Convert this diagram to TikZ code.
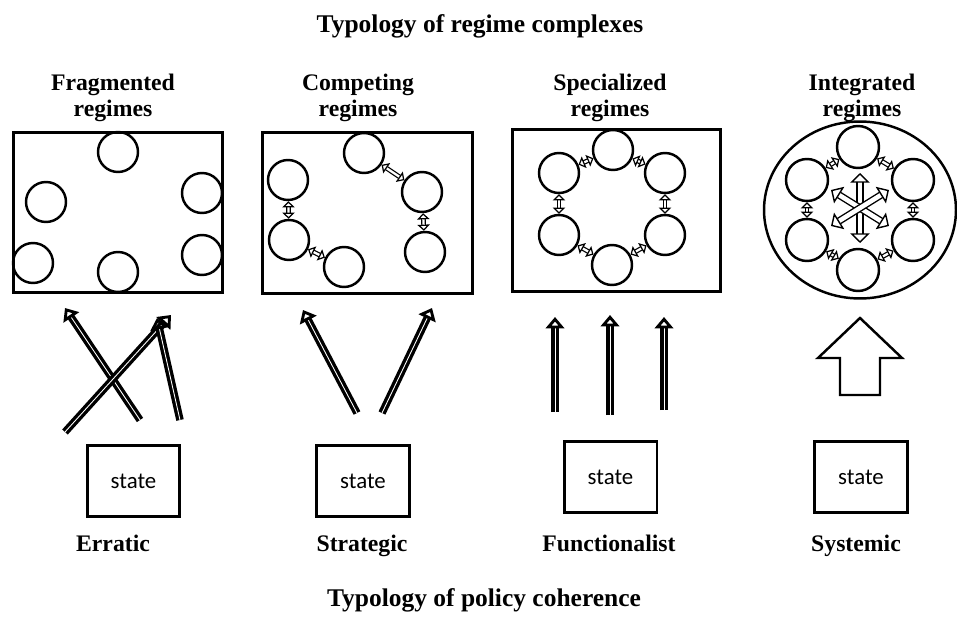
\documentclass[tikz,border=0pt]{standalone}
\usepackage{fontspec}
\setmainfont{Liberation Serif}
\newfontfamily\statefont{Carlito}
\usetikzlibrary{arrows.meta,shapes.geometric}

\tikzset{
  regbox/.style={draw, line width=1.7pt, inner sep=0pt},
  reg/.style={draw, circle, line width=1.4pt, minimum size=0.8cm, inner sep=0pt},
  statebox/.style={draw, line width=1.7pt, minimum width=1.86cm, minimum height=1.42cm,
    font=\statefont\fontsize{13}{15}\selectfont},
  head/.style={font=\bfseries\fontsize{13.5}{14.7}\selectfont, align=center},
  kind/.style={font=\bfseries\fontsize{13.5}{15}\selectfont, anchor=base},
  title/.style={font=\bfseries\fontsize{14.5}{16}\selectfont, anchor=base},
  push/.style={double, double distance=0.5pt, line width=1.9pt,
    -{Triangle[open, length=6.5pt, width=10.5pt, line width=1.7pt]}},
  link/.style={double, double distance=1.3pt, line width=0.7pt,
    {Triangle[open, length=3.5pt, width=7pt, line width=0.7pt]}-{Triangle[open, length=3.5pt, width=7pt, line width=0.7pt]}},
  star/.style={double, double distance=2.6pt, line width=0.8pt,
    {Triangle[open, length=5.5pt, width=11pt, line width=0.8pt]}-{Triangle[open, length=5.5pt, width=11pt, line width=0.8pt]}},
}

\begin{document}
\begin{tikzpicture}[x=0.02cm, y=-0.02cm]
\useasboundingbox (0,0) rectangle (957,618);

% titles
\node[title] (top) at (480,33) {Typology of regime complexes};
\node[title] (bottom) at (484,606) {Typology of policy coherence};

\node[head] (hfrag) at (113,98) {Fragmented\\regimes};
\node[head] (hcomp) at (358,98) {Competing\\regimes};
\node[head] (hspec) at (610,98) {Specialized\\regimes};
\node[head] (hinteg) at (862,98) {Integrated\\regimes};

% regime complexes
\node[regbox, minimum width=4.2cm, minimum height=3.22cm] (frag) at (118,212.5) {};
\node[regbox, minimum width=4.22cm, minimum height=3.24cm] (comp) at (367.5,213) {};
\node[regbox, minimum width=4.18cm, minimum height=3.26cm] (spec) at (616.5,210.5) {};
\node[regbox, ellipse, line width=1.4pt, minimum width=3.84cm, minimum height=3.54cm] (integ) at (860,210) {};

\node[reg] (f1) at (118,152) {};
\node[reg] (f2) at (202,193) {};
\node[reg] (f3) at (202,255) {};
\node[reg] (f4) at (118,272) {};
\node[reg] (f5) at (33,263) {};
\node[reg] (f6) at (46,202) {};

\node[reg] (cp1) at (364,153) {};
\node[reg] (cp2) at (422,192) {};
\node[reg] (cp3) at (425,252) {};
\node[reg] (cp4) at (344,267) {};
\node[reg] (cp5) at (289,240) {};
\node[reg] (cp6) at (288,180) {};
\draw[link] (cp1) -- (cp2);
\draw[link] (cp2) -- (cp3);
\draw[link] (cp4) -- (cp5);
\draw[link] (cp5) -- (cp6);

\node[reg] (sp1) at (613,150) {};
\node[reg] (sp2) at (665,173) {};
\node[reg] (sp3) at (665,235) {};
\node[reg] (sp4) at (612,265) {};
\node[reg] (sp5) at (559,235) {};
\node[reg] (sp6) at (559,173) {};
\draw[link] (sp1) -- (sp2);
\draw[link] (sp2) -- (sp3);
\draw[link] (sp3) -- (sp4);
\draw[link] (sp4) -- (sp5);
\draw[link] (sp5) -- (sp6);
\draw[link] (sp6) -- (sp1);

\node[reg, minimum size=0.84cm] (in1) at (858,147) {};
\node[reg, minimum size=0.84cm] (in2) at (913,180) {};
\node[reg, minimum size=0.84cm] (in3) at (913,240) {};
\node[reg, minimum size=0.84cm] (in4) at (858,270) {};
\node[reg, minimum size=0.84cm] (in5) at (807,240) {};
\node[reg, minimum size=0.84cm] (in6) at (807,180) {};
\draw[link] (in1) -- (in2);
\draw[link] (in2) -- (in3);
\draw[link] (in3) -- (in4);
\draw[link] (in4) -- (in5);
\draw[link] (in5) -- (in6);
\draw[link] (in6) -- (in1);

\coordinate (xv1) at (860,173);
\coordinate (xv2) at (860,243);
\coordinate (xd1) at (831,190);
\coordinate (xd2) at (889,226);
\coordinate (xd3) at (889,190);
\coordinate (xd4) at (831,226);
\draw[star] (xv1) -- (xv2);
\draw[star] (xd1) -- (xd2);
\draw[star] (xd3) -- (xd4);

% states
\node[statebox] (st1) at (133.5,481) {state};
\node[statebox] (st2) at (363,481) {state};
\node[statebox] (st3) at (610.5,477) {state};
\node[statebox] (st4) at (861,477) {state};

\node[kind] (erratic) at (113,551) {Erratic};
\node[kind] (strategic) at (362,551) {Strategic};
\node[kind] (functional) at (609,551) {Functionalist};
\node[kind] (systemic) at (856,551) {Systemic};

% policies
\coordinate (e1s) at (140,420);
\coordinate (e1t) at (65,308);
\coordinate (e2s) at (65,432);
\coordinate (e2t) at (171,315);
\coordinate (e3s) at (180,420);
\coordinate (e3t) at (157,318);
\draw[push] (e1s) -- (e1t);
\draw[push] (e2s) -- (e2t);
\draw[push] (e3s) -- (e3t);

\coordinate (g1s) at (357,413);
\coordinate (g1t) at (303,310);
\coordinate (g2s) at (382,413);
\coordinate (g2t) at (432,308);
\draw[push] (g1s) -- (g1t);
\draw[push] (g2s) -- (g2t);

\coordinate (u1s) at (555,412);
\coordinate (u1t) at (555,317);
\coordinate (u2s) at (610,415);
\coordinate (u2t) at (610,315);
\coordinate (u3s) at (664,410);
\coordinate (u3t) at (664,317);
\draw[push] (u1s) -- (u1t);
\draw[push] (u2s) -- (u2t);
\draw[push] (u3s) -- (u3t);

\draw[line width=1.4pt] (860,318) -- (902,358) -- (880,358) -- (880,395)
  -- (840,395) -- (840,358) -- (818,358) -- cycle;

\end{tikzpicture}
\end{document}
